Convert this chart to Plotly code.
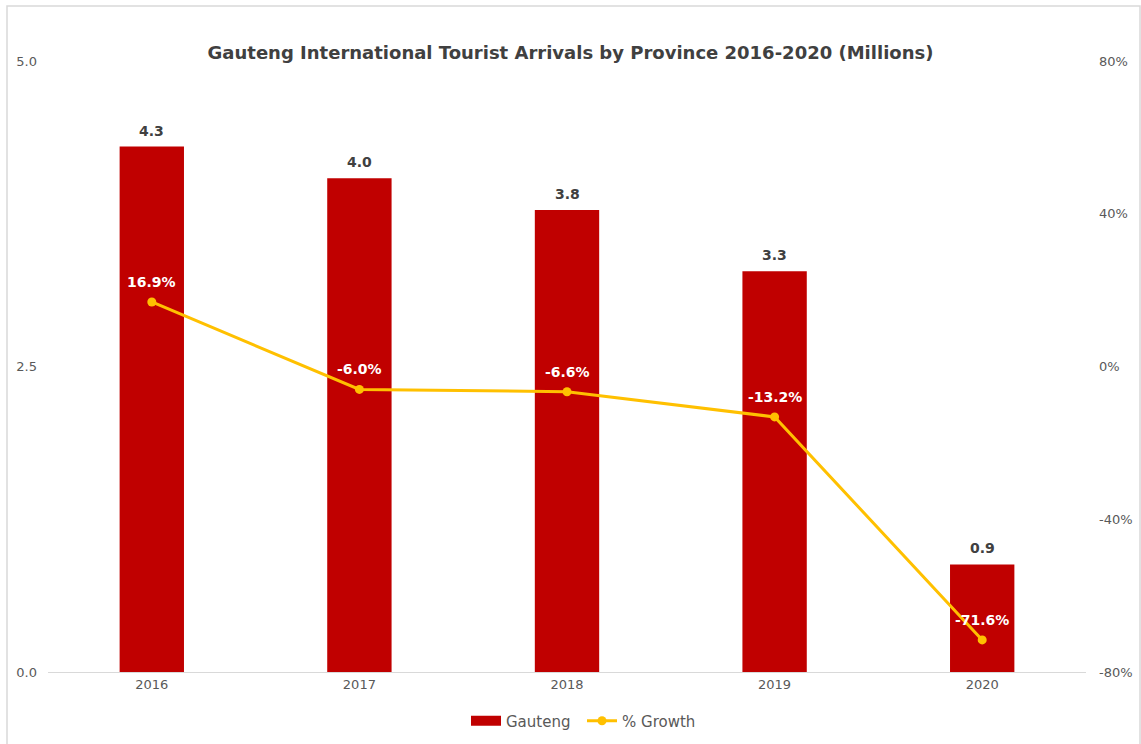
import plotly.graph_objects as go

years = ["2016", "2017", "2018", "2019", "2020"]
arrivals = [4.3, 4.04, 3.78, 3.28, 0.88]
arrival_labels = ["4.3", "4.0", "3.8", "3.3", "0.9"]
growth = [16.9, -6.0, -6.6, -13.2, -71.6]
growth_labels = ["16.9%", "-6.0%", "-6.6%", "-13.2%", "-71.6%"]
left_ticks = [0, 2.5, 5]
left_ticktext = ["0.0", "2.5", "5.0"]
right_ticks = [-80, -40, 0, 40, 80]
right_ticktext = ["-80%", "-40%", "0%", "40%", "80%"]

FONT = "DejaVu Sans"
W, H = 1141, 744
L, R, T, B = 48, 55, 61, 72
pw, ph = W - L - R, H - T - B

def px(x):
    return (x - L) / pw

def py(y):
    return (H - B - y) / ph

fig = go.Figure()
fig.add_trace(go.Bar(
    x=years, y=arrivals, name="Gauteng",
    marker=dict(color="#C00000", line=dict(width=0)),
    width=0.31, showlegend=False,
))
# legend entry with a wide rectangle swatch like the original
fig.add_trace(go.Scatter(
    x=[None], y=[None], name="Gauteng", mode="lines",
    line=dict(color="#C00000", width=10),
))
fig.add_trace(go.Scatter(
    x=years, y=growth, name="% Growth", yaxis="y2",
    mode="lines+markers",
    line=dict(color="#FFC000", width=3),
    marker=dict(color="#FFC000", size=9),
))

annotations = []
for i, (v, t) in enumerate(zip(arrivals, arrival_labels)):
    annotations.append(dict(
        x=i, y=v, xref="x", yref="y", text="<b>%s</b>" % t,
        showarrow=False, yanchor="bottom", yshift=6,
        font=dict(family=FONT, size=14, color="#404040"),
    ))
for i, (v, t) in enumerate(zip(growth, growth_labels)):
    annotations.append(dict(
        x=i, y=v, xref="x", yref="y2", text="<b>%s</b>" % t,
        showarrow=False, yanchor="bottom", yshift=10,
        font=dict(family=FONT, size=14, color="white"),
    ))

fig.update_layout(
    width=W, height=H,
    margin=dict(l=L, r=R, t=T, b=B, autoexpand=False),
    paper_bgcolor="white", plot_bgcolor="white",
    font=dict(family=FONT, color="#595959"),
    title=dict(
        text="<b>Gauteng International Tourist Arrivals by Province 2016-2020 (Millions)</b>",
        x=0.5, xanchor="center", y=1 - 53 / H, yanchor="middle",
        font=dict(family=FONT, size=18, color="#404040"),
    ),
    xaxis=dict(
        type="category",
        showgrid=False, showline=True, linecolor="#D9D9D9", linewidth=1,
        ticks="", tickfont=dict(family=FONT, size=13, color="#595959"),
        range=[-0.5, 4.5],
    ),
    yaxis=dict(
        range=[0, 5], tickvals=left_ticks, ticktext=left_ticktext,
        showgrid=False, zeroline=False, showline=False,
        tickfont=dict(family=FONT, size=13, color="#595959"),
        ticklabelstandoff=10,
    ),
    yaxis2=dict(
        range=[-80, 80], tickvals=right_ticks, ticktext=right_ticktext,
        overlaying="y", side="right",
        showgrid=False, zeroline=False, showline=False,
        tickfont=dict(family=FONT, size=13, color="#595959"),
        ticklabelstandoff=12,
    ),
    legend=dict(
        orientation="h", x=px(582), xanchor="center",
        y=py(721), yanchor="middle",
        font=dict(family=FONT, size=15, color="#595959"),
        traceorder="normal", entrywidth=71,
    ),
    annotations=annotations,
    showlegend=True,
)

fig.add_shape(
    type="rect", xref="paper", yref="paper",
    x0=px(7), x1=px(1140), y0=py(H + 20), y1=py(6),
    line=dict(color="#D9D9D9", width=1.5), fillcolor="rgba(0,0,0,0)",
    layer="below",
)

fig.write_html("out.html", config={"displayModeBar": False},
               post_script="document.body.style.margin='0';")
